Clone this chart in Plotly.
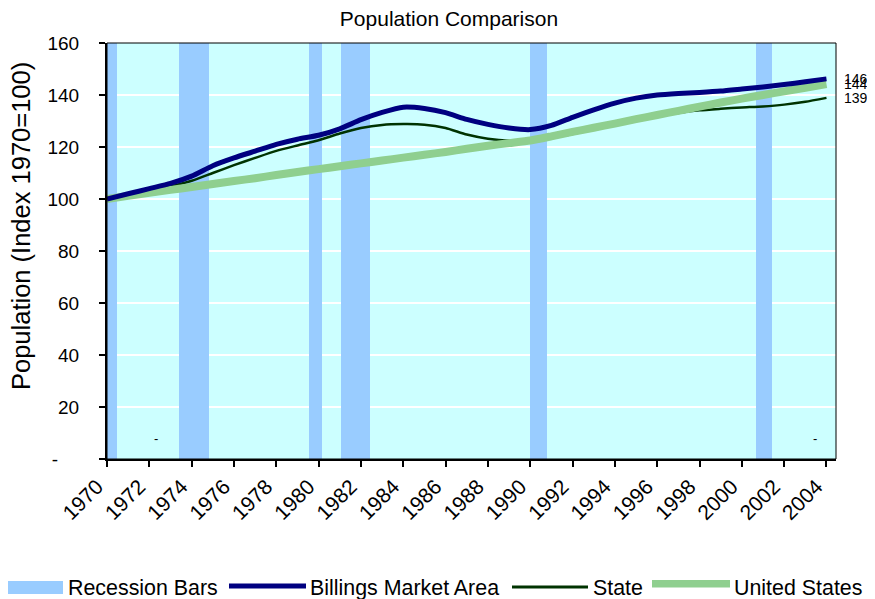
import plotly.graph_objects as go

years = list(range(1970, 2005))

billings = [100.0, 102.0, 104.0, 106.0, 108.8, 112.8, 115.8, 118.4, 121.0, 123.0,
            124.5, 127.0, 130.5, 133.3, 135.3, 134.8, 133.2, 130.6, 128.7, 127.3,
            126.7, 128.3, 131.4, 134.3, 136.9, 138.8, 140.0, 140.6, 141.0, 141.5,
            142.3, 143.1, 144.0, 145.1, 146.2]

state = [100.0, 101.5, 103.0, 104.8, 107.0, 110.0, 113.0, 115.8, 118.5, 120.6,
         122.6, 125.2, 127.3, 128.5, 128.8, 128.6, 127.3, 124.8, 123.2, 122.4,
         122.5, 123.5, 125.0, 126.8, 128.6, 130.2, 131.8, 133.1, 134.1, 134.7,
         135.2, 135.6, 136.3, 137.4, 138.9]

united_states = [100.0, 101.2, 102.4, 103.5, 104.6, 105.8, 106.9, 108.0, 109.2, 110.4,
                 111.5, 112.6, 113.7, 114.8, 115.9, 117.0, 118.1, 119.3, 120.5, 121.5,
                 122.5, 124.1, 125.8, 127.4, 129.0, 130.7, 132.3, 133.9, 135.5, 137.1,
                 138.6, 140.0, 141.4, 142.8, 144.2]

# recession periods as drawn on the chart's year axis
recession_start = [1969.9, 1973.38, 1979.53, 1981.05, 1990.0, 2000.66]
recession_end = [1970.48, 1974.8, 1980.16, 1982.45, 1990.77, 2001.41]
recession_height = 160

y_ticks = [0, 20, 40, 60, 80, 100, 120, 140, 160]
# accounting style zero: the dash sits left of the number column
y_tick_text = ["-\u00a0\u00a0\u00a0\u00a0", "20", "40", "60", "80", "100", "120", "140", "160"]
x_ticks = list(range(1970, 2005, 2))

legend_labels = ["Recession Bars", "Billings Market Area", "State", "United States"]

FONT = "Arial, Liberation Sans, sans-serif"
BAR_BLUE = "#99CCFF"
NAVY = "#000080"
DARK_GREEN = "#003300"
US_GREEN = "#8FCF8F"

# figure geometry (page is offset 8px by the html body margin)
W, H = 875, 599
ML, MR, MT, MB = 99, 47, 35, 148
PW, PH = W - ML - MR, H - MT - MB


def paper_x(page_x):
    return (page_x - 8 - ML) / PW


def paper_y(page_y):
    return (H - MB - (page_y - 8)) / PH


fig = go.Figure()

centers = [(s + e) / 2 for s, e in zip(recession_start, recession_end)]
widths = [e - s for s, e in zip(recession_start, recession_end)]
fig.add_trace(go.Bar(x=centers, y=[recession_height] * len(centers), width=widths,
                     name=legend_labels[0],
                     marker=dict(color=BAR_BLUE, line=dict(width=0)), hoverinfo="skip"))

fig.add_trace(go.Scatter(x=years, y=state, mode="lines", name=legend_labels[2],
                         line=dict(color=DARK_GREEN, width=2.5, shape="spline", smoothing=0.6)))
fig.add_trace(go.Scatter(x=years, y=united_states, mode="lines", name=legend_labels[3],
                         line=dict(color=US_GREEN, width=8, shape="spline", smoothing=0.6)))
fig.add_trace(go.Scatter(x=years, y=billings, mode="lines", name=legend_labels[1],
                         line=dict(color=NAVY, width=5, shape="spline", smoothing=0.6)))

# end-of-series value labels
for series in (billings, united_states, state):
    fig.add_annotation(x=1, xref="paper", y=series[-1], yref="y", xanchor="left",
                       xshift=6, text=f"{series[-1]:.0f}", showarrow=False,
                       font=dict(family=FONT, size=14, color="black"))

for xv in (1972.33, 2003.45):
    fig.add_annotation(x=xv, y=8, text="-", showarrow=False,
                       font=dict(family=FONT, size=13, color="black"))

# y-axis title placed like the original (a little above centre)
fig.add_annotation(x=paper_x(21), xref="paper", y=paper_y(226), yref="paper",
                   xanchor="center", yanchor="middle", textangle=-90, showarrow=False,
                   text="Population (Index 1970=100)",
                   font=dict(family=FONT, size=25.5, color="black"))

# thin frame around plot area
fig.add_shape(type="rect", xref="paper", yref="paper", x0=0, x1=1, y0=0, y1=1,
              line=dict(color="black", width=1), layer="above")

# legend row drawn by hand so the swatches and spacing follow the original
LEG_Y = 588
fig.add_shape(type="rect", xref="paper", yref="paper",
              x0=paper_x(0), x1=paper_x(63), y0=paper_y(594), y1=paper_y(581),
              fillcolor=BAR_BLUE, line=dict(width=0))
fig.add_shape(type="line", xref="paper", yref="paper",
              x0=paper_x(229), x1=paper_x(306), y0=paper_y(586), y1=paper_y(586),
              line=dict(color=NAVY, width=5))
fig.add_shape(type="line", xref="paper", yref="paper",
              x0=paper_x(512), x1=paper_x(588), y0=paper_y(587), y1=paper_y(587),
              line=dict(color=DARK_GREEN, width=3))
fig.add_shape(type="rect", xref="paper", yref="paper",
              x0=paper_x(652), x1=paper_x(730), y0=paper_y(587.5), y1=paper_y(580),
              fillcolor=US_GREEN, line=dict(width=0))
for label, lx in zip(legend_labels, (66, 308, 591, 732)):
    fig.add_annotation(x=paper_x(lx), xref="paper", y=paper_y(LEG_Y), yref="paper",
                       xanchor="left", yanchor="middle", text=label, showarrow=False,
                       font=dict(family=FONT, size=21.4, color="black"))

fig.update_layout(
    template="none",
    width=W, height=H,
    margin=dict(l=ML, r=MR, t=MT, b=MB, autoexpand=False),
    paper_bgcolor="white",
    plot_bgcolor="#CCFFFF",
    font=dict(family=FONT, color="black"),
    title=dict(text="Population Comparison", x=0.504, xanchor="center",
               y=0.983, yanchor="middle", font=dict(size=21, family=FONT)),
    bargap=0,
    showlegend=False,
    xaxis=dict(range=[1970, 2004.45], tickmode="array", tickvals=x_ticks,
               ticktext=[str(v) for v in x_ticks], tickangle=-45,
               showgrid=False, zeroline=False, showline=True, linecolor="black",
               linewidth=2, ticks="outside", ticklen=6, tickwidth=2, tickcolor="black",
               ticklabelshift=-10, ticklabelstandoff=-1,
               tickfont=dict(size=21, family=FONT)),
    yaxis=dict(range=[0, 160], tickmode="array", tickvals=y_ticks, ticktext=y_tick_text,
               showgrid=True, gridcolor="white", gridwidth=2, zeroline=False,
               showline=True, linecolor="black", linewidth=2, ticks="outside",
               ticklen=6, tickwidth=2, tickcolor="black", ticklabelstandoff=16,
               tickfont=dict(size=19, family=FONT)),
)

fig.write_html("out.html")
